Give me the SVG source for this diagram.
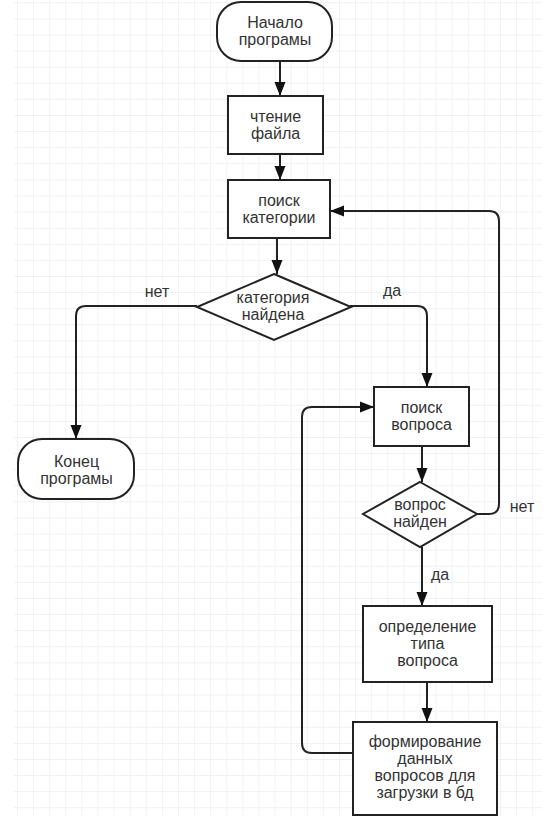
<svg xmlns="http://www.w3.org/2000/svg" width="548" height="824" viewBox="0 0 548 824">
<defs>
<pattern id="grid" patternUnits="userSpaceOnUse" x="17" y="2.3" width="16.1" height="16.1">
<path d="M0 0 H16.1 M0 0 V16.1" fill="none" stroke="#ebebeb" stroke-width="1.2"/>
</pattern>
<marker id="arr" markerWidth="14" markerHeight="12" refX="14" refY="6" orient="auto" markerUnits="userSpaceOnUse">
<path d="M0 0.5 L14 6 L0 11.5 Z" fill="#111"/>
</marker>
<style>
.shape{fill:#fff;stroke:#222;stroke-width:2}
.lbl{font-family:"Liberation Sans",Arial,sans-serif;font-size:16px;fill:#333;text-anchor:middle}
.conn{fill:none;stroke:#222;stroke-width:2;marker-end:url(#arr)}
</style>
</defs>
<rect x="0" y="0" width="548" height="824" fill="#fff"/>
<rect x="14" y="0" width="528" height="816" fill="url(#grid)"/>

<g id="connectors">
<path class="conn" d="M280 61 V96"/>
<path class="conn" d="M280 154 V180"/>
<path class="conn" d="M277 238 V274"/>
<path class="conn" d="M197 306 H86 Q76 306 76 316 V439"/>
<path class="conn" d="M350 306 H417 Q427 306 427 316 V387"/>
<path class="conn" d="M422 446 V482"/>
<path class="conn" d="M477 514 H489 Q499 514 499 504 V221 Q499 211 489 211 H330"/>
<path class="conn" d="M422 547 V606"/>
<path class="conn" d="M427 682 V722"/>
<path class="conn" d="M353 753 H312 Q302 753 302 743 V417 Q302 407 312 407 H374"/>
<text class="lbl" x="157" y="297">нет</text>
<text class="lbl" x="392" y="296">да</text>
<text class="lbl" x="522" y="512">нет</text>
<text class="lbl" x="440" y="580">да</text>
</g>

<g id="start">
<rect class="shape" x="217" y="2" width="115" height="59" rx="24" ry="24"/>
<text class="lbl" x="275" y="28">Начало</text>
<text class="lbl" x="275" y="45">програмы</text>
</g>
<g id="read">
<rect class="shape" x="228" y="96" width="95" height="58"/>
<text class="lbl" x="275.5" y="122">чтение</text>
<text class="lbl" x="275.5" y="139">файла</text>
</g>
<g id="findcat">
<rect class="shape" x="228" y="180" width="102" height="58"/>
<text class="lbl" x="279" y="206">поиск</text>
<text class="lbl" x="279" y="223">категории</text>
</g>
<g id="catfound">
<polygon class="shape" points="274,274 351,307 274,340 197,307"/>
<text class="lbl" x="273" y="303">категория</text>
<text class="lbl" x="273" y="320">найдена</text>
</g>
<g id="end">
<rect class="shape" x="18" y="439" width="116" height="60" rx="24" ry="24"/>
<text class="lbl" x="76.5" y="467">Конец</text>
<text class="lbl" x="76.5" y="484">програмы</text>
</g>
<g id="findq">
<rect class="shape" x="374" y="387" width="95" height="59"/>
<text class="lbl" x="421.5" y="413">поиск</text>
<text class="lbl" x="421.5" y="430">вопроса</text>
</g>
<g id="qfound">
<polygon class="shape" points="420,482 477,514 420,547 363,514"/>
<text class="lbl" x="420" y="510">вопрос</text>
<text class="lbl" x="420" y="527">найден</text>
</g>
<g id="qtype">
<rect class="shape" x="363" y="606" width="129" height="76"/>
<text class="lbl" x="427.5" y="632">определение</text>
<text class="lbl" x="427.5" y="649">типа</text>
<text class="lbl" x="427.5" y="666">вопроса</text>
</g>
<g id="form">
<rect class="shape" x="353" y="722" width="144" height="93"/>
<text class="lbl" x="425" y="747">формирование</text>
<text class="lbl" x="425" y="764">данных</text>
<text class="lbl" x="425" y="781">вопросов для</text>
<text class="lbl" x="425" y="798">загрузки в бд</text>
</g>
</svg>
